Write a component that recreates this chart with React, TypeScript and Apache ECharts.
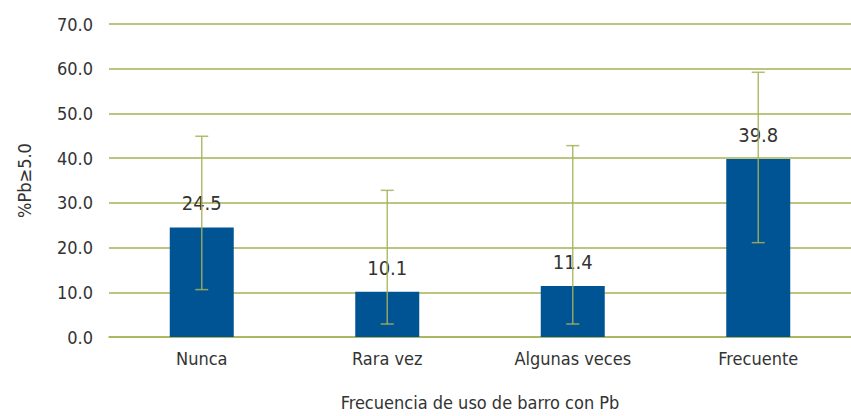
import React, { useEffect, useRef } from "react";
import * as echarts from "echarts";

const categories = ["Nunca", "Rara vez", "Algunas veces", "Frecuente"];
const values = [24.5, 10.1, 11.4, 39.8];
const ciLow = [10.6, 2.9, 2.9, 21.1];
const ciHigh = [44.9, 32.8, 42.8, 59.2];
const yTicks = [0, 10, 20, 30, 40, 50, 60, 70];

const FONT = "'DejaVu Sans Condensed', 'Liberation Sans Narrow', sans-serif";
const TEXT = "#333333";
const OLIVE = "#a6b256";
const FS = 18;

export default function App() {
  const ref = useRef<HTMLDivElement>(null);
  useEffect(() => {
    if (!ref.current) return;
    const chart = echarts.init(ref.current, undefined, { renderer: "svg" });
    const errData = categories.map((_, i) => [i, ciLow[i], ciHigh[i]]);
    chart.setOption({
      animation: false,
      textStyle: { fontFamily: FONT },
      grid: { left: 109, top: 24, width: 752, height: 317, containLabel: false },
      xAxis: {
        type: "category",
        data: categories,
        axisTick: { show: false },
        axisLine: { lineStyle: { color: OLIVE, width: 1.5 } },
        axisLabel: { color: TEXT, fontSize: FS, margin: 12, fontFamily: FONT },
        name: "Frecuencia de uso de barro con Pb",
        nameLocation: "middle",
        nameGap: 56,
        nameTextStyle: { color: TEXT, fontSize: FS, fontFamily: FONT },
      },
      yAxis: {
        type: "value",
        min: yTicks[0],
        max: yTicks[yTicks.length - 1],
        interval: 10,
        axisLine: { show: false },
        axisTick: { show: false },
        splitLine: { lineStyle: { color: OLIVE, width: 1.5 } },
        axisLabel: {
          color: TEXT,
          fontSize: FS,
          margin: 16,
          fontFamily: FONT,
          formatter: (v: number) => v.toFixed(1),
        },
        name: "%Pb≥5.0",
        nameLocation: "middle",
        nameGap: 76,
        nameTextStyle: { color: TEXT, fontSize: FS, fontFamily: FONT },
      },
      series: [
        {
          type: "bar",
          data: values,
          barWidth: 64,
          itemStyle: { color: "#005494" },
          label: {
            show: true,
            position: "top",
            distance: 14,
            color: TEXT,
            fontSize: 20,
            fontFamily: FONT,
            formatter: (p: any) => Number(p.value).toFixed(1),
          },
          z: 2,
        },
        {
          type: "custom",
          data: errData,
          z: 3,
          renderItem: (params: any, api: any) => {
            const x = api.value(0);
            const lo = api.coord([x, api.value(1)]);
            const hi = api.coord([x, api.value(2)]);
            const hw = 6.5;
            const style = { stroke: OLIVE, lineWidth: 1.5, opacity: 0.85 };
            return {
              type: "group",
              children: [
                { type: "line", shape: { x1: lo[0], y1: lo[1], x2: hi[0], y2: hi[1] }, style },
                { type: "line", shape: { x1: lo[0] - hw, y1: lo[1], x2: lo[0] + hw, y2: lo[1] }, style },
                { type: "line", shape: { x1: hi[0] - hw, y1: hi[1], x2: hi[0] + hw, y2: hi[1] }, style },
              ],
            };
          },
        },
      ],
    });
    return () => chart.dispose();
  }, []);
  return (
    <div
      ref={ref}
      style={{ position: "absolute", left: 0, top: 0, width: 851, height: 416, background: "#fff" }}
    />
  );
}
